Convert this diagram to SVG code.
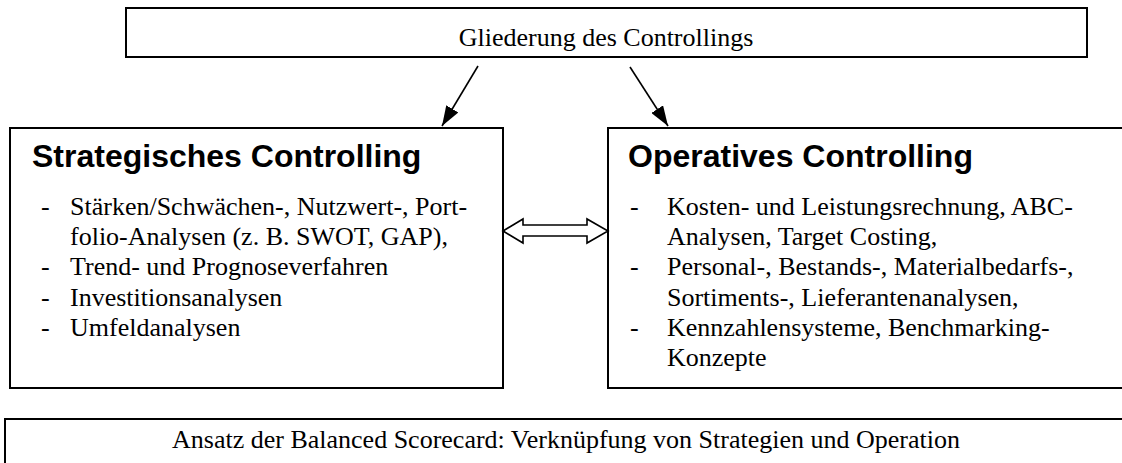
<svg xmlns="http://www.w3.org/2000/svg" width="1122" height="463" viewBox="0 0 1122 463">
<style>
.box{fill:#fff;stroke:#000;stroke-width:2}
.t{font-family:"Liberation Serif","Times New Roman",serif;font-size:26px;fill:#000}
.h{font-family:"Liberation Sans",Arial,sans-serif;font-size:32px;font-weight:bold;fill:#000}
.ln{stroke:#000;stroke-width:1.6;fill:none}
</style>
<defs>
<marker id="ah" markerUnits="userSpaceOnUse" viewBox="0 0 20 14" refX="20" refY="7" markerWidth="20" markerHeight="14" orient="auto">
<path d="M0,0 L20,7 L0,14 z" fill="#000"/>
</marker>
</defs>
<rect width="1122" height="463" fill="#fff"/>
<g id="top">
<rect class="box" x="126" y="8" width="961" height="49"/>
<text class="t" x="606" y="46" text-anchor="middle">Gliederung des Controllings</text>
</g>
<g id="strategisch">
<rect class="box" x="10" y="128" width="493" height="260"/>
<text class="h" x="32" y="167">Strategisches Controlling</text>
<g class="t">
<text x="41" y="215">-</text><text x="70" y="215">Stärken/Schwächen-, Nutzwert-, Port-</text>
<text x="70" y="245">folio-Analysen (z. B. SWOT, GAP),</text>
<text x="41" y="275">-</text><text x="70" y="275">Trend- und Prognoseverfahren</text>
<text x="41" y="306">-</text><text x="70" y="306">Investitionsanalysen</text>
<text x="41" y="336">-</text><text x="70" y="336">Umfeldanalysen</text>
</g>
</g>
<g id="operativ">
<rect class="box" x="608" y="128" width="540" height="260"/>
<text class="h" x="628" y="167">Operatives Controlling</text>
<g class="t">
<text x="630" y="215">-</text><text x="667" y="215">Kosten- und Leistungsrechnung, ABC-</text>
<text x="667" y="245">Analysen, Target Costing,</text>
<text x="630" y="275">-</text><text x="667" y="275">Personal-, Bestands-, Materialbedarfs-,</text>
<text x="667" y="306">Sortiments-, Lieferantenanalysen,</text>
<text x="630" y="336">-</text><text x="667" y="336">Kennzahlensysteme, Benchmarking-</text>
<text x="667" y="366">Konzepte</text>
</g>
</g>
<g id="bsc">
<rect class="box" x="5" y="419" width="1140" height="70"/>
<text class="t" x="566" y="448" text-anchor="middle">Ansatz der Balanced Scorecard: Verknüpfung von Strategien und Operation</text>
</g>
<g id="connectors">
<line class="ln" x1="478" y1="66" x2="442" y2="126" marker-end="url(#ah)"/>
<line class="ln" x1="630" y1="67" x2="668" y2="126" marker-end="url(#ah)"/>
<polygon class="ln" fill="#fff" points="503,231 523,219 523,225 587,225 587,219 608,231 587,243 587,236 523,236 523,243"/>
</g>
</svg>
